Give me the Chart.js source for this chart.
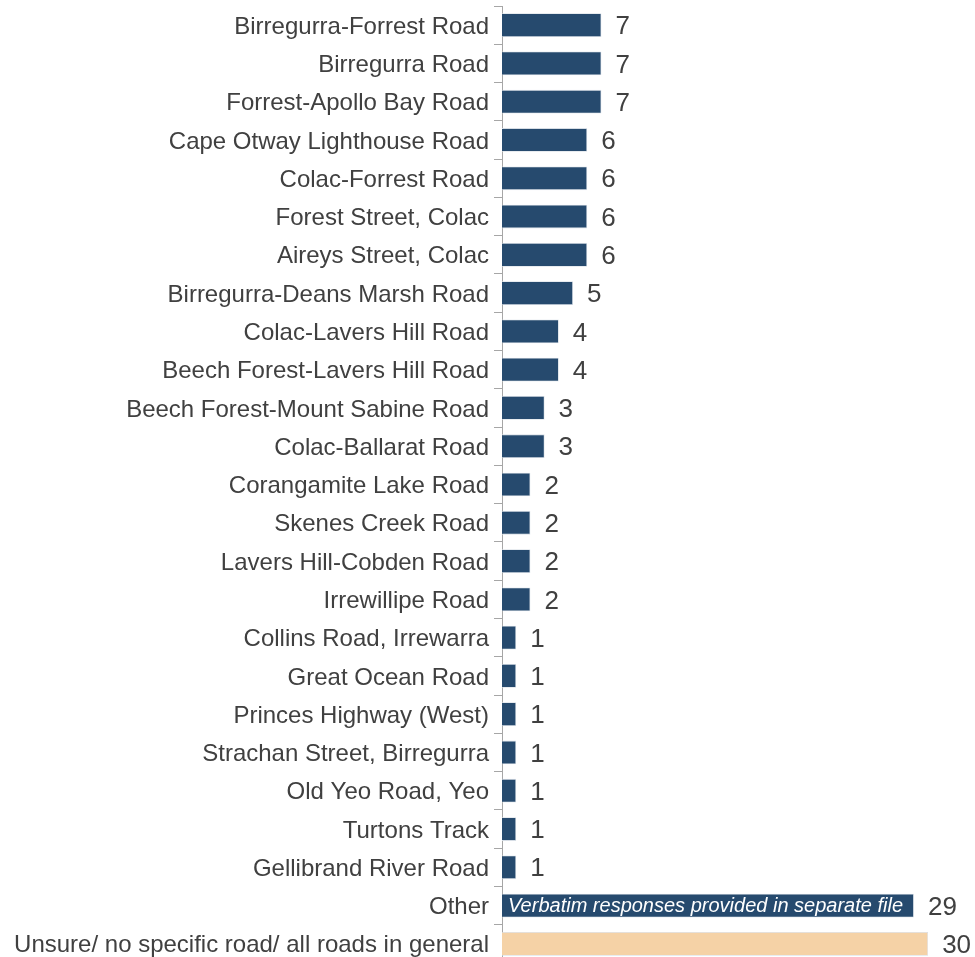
<!DOCTYPE html>
<html>
<head>
<meta charset="utf-8">
<script src="https://cdn.jsdelivr.net/npm/chart.js@4/dist/chart.umd.min.js"></script>
<style>
  html, body { margin: 0; padding: 0; background: #fff; overflow: hidden; }
  #wrap { width: 975px; height: 963px; }
</style>
</head>
<body>
<div id="wrap"><canvas id="roadsChart"></canvas></div>
<script>
const roads = [
  "Birregurra-Forrest Road",
  "Birregurra Road",
  "Forrest-Apollo Bay Road",
  "Cape Otway Lighthouse Road",
  "Colac-Forrest Road",
  "Forest Street, Colac",
  "Aireys Street, Colac",
  "Birregurra-Deans Marsh Road",
  "Colac-Lavers Hill Road",
  "Beech Forest-Lavers Hill Road",
  "Beech Forest-Mount Sabine Road",
  "Colac-Ballarat Road",
  "Corangamite Lake Road",
  "Skenes Creek Road",
  "Lavers Hill-Cobden Road",
  "Irrewillipe Road",
  "Collins Road, Irrewarra",
  "Great Ocean Road",
  "Princes Highway (West)",
  "Strachan Street, Birregurra",
  "Old Yeo Road, Yeo",
  "Turtons Track",
  "Gellibrand River Road",
  "Other",
  "Unsure/ no specific road/ all roads in general"
];
const mentions = [7, 7, 7, 6, 6, 6, 6, 5, 4, 4, 3, 3, 2, 2, 2, 2, 1, 1, 1, 1, 1, 1, 1, 29, 30];
const barNotes = { "Other": "Verbatim responses provided in separate file" };

const NAVY = "#264a6e";
const PEACH = "#f5d2a6";
const TEXT = "#404040";
const FONT = "'Liberation Sans', Arial, sans-serif";

const barColors = roads.map(r => r.startsWith("Unsure") ? PEACH : NAVY);

// value labels at the end of each bar + note text inside the "Other" bar
const valueLabels = {
  id: "valueLabels",
  afterDatasetsDraw(chart) {
    const ctx = chart.ctx;
    const meta = chart.getDatasetMeta(0);
    ctx.save();
    meta.data.forEach((bar, i) => {
      ctx.fillStyle = TEXT;
      ctx.font = "26px " + FONT;
      ctx.textAlign = "left";
      ctx.textBaseline = "middle";
      ctx.fillText(String(mentions[i]), bar.x + 14, bar.y + 2);
      const note = barNotes[roads[i]];
      if (note) {
        ctx.fillStyle = "#ffffff";
        ctx.font = "italic 20px " + FONT;
        ctx.fillText(note, bar.base + 6, bar.y + 1);
      }
    });
    ctx.restore();
  }
};

new Chart(document.getElementById("roadsChart"), {
  type: "bar",
  data: {
    labels: roads,
    datasets: [{
      data: mentions,
      backgroundColor: barColors,
      borderColor: "#d6dde5",
      borderWidth: 0.8,
      barPercentage: 0.62,
      categoryPercentage: 1.0
    }]
  },
  options: {
    indexAxis: "y",
    responsive: true,
    maintainAspectRatio: false,
    animation: false,
    layout: { padding: { top: 6, right: 0, bottom: 0, left: 0 } },
    plugins: {
      legend: { display: false },
      tooltip: { enabled: false }
    },
    scales: {
      x: {
        display: false,
        min: 0,
        max: 33.3
      },
      y: {
        offset: true,
        border: { display: true, color: "#a6a6a6", width: 1 },
        grid: {
          drawOnChartArea: false,
          drawTicks: true,
          tickLength: 8,
          offset: true,
          color: "#a6a6a6"
        },
        ticks: {
          color: TEXT,
          padding: 5,
          labelOffset: 2,
          autoSkip: false,
          font: { family: FONT, size: 24 }
        },
        afterFit(scale) {
          scale.width = 502;
          scale.paddingTop = 0;
          scale.paddingBottom = 0;
        }
      }
    }
  },
  plugins: [valueLabels]
});
</script>
</body>
</html>
